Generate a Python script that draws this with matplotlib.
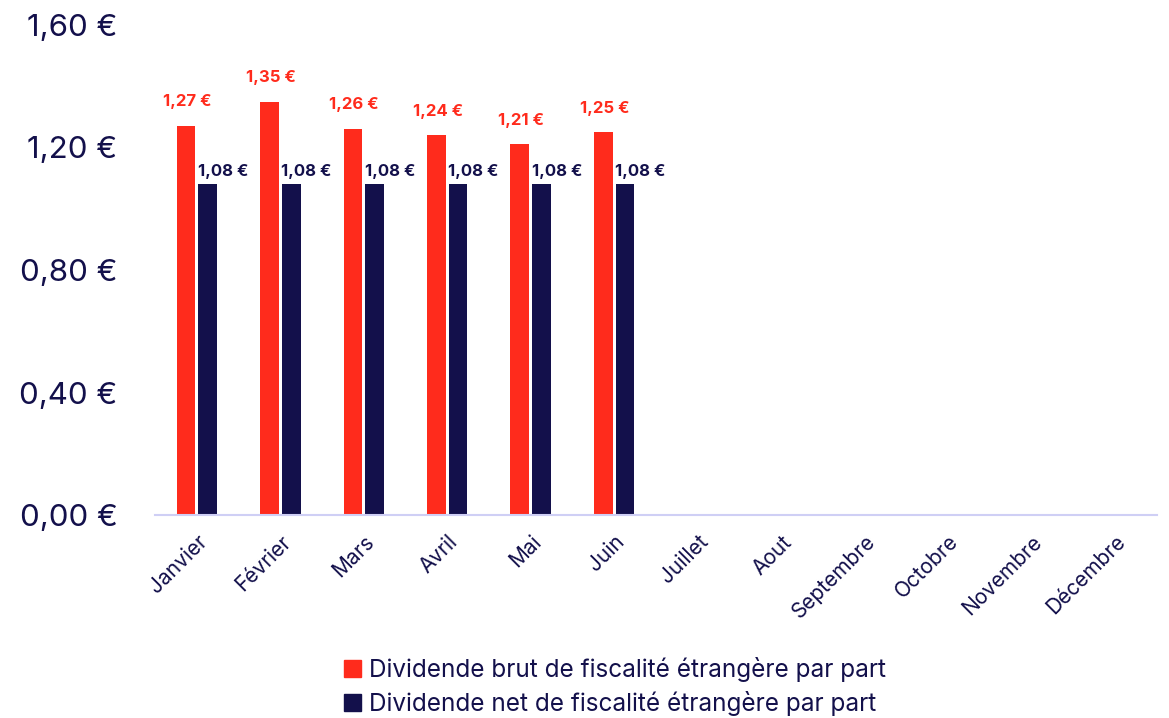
import matplotlib
matplotlib.use("Agg")
import matplotlib.pyplot as plt
import numpy as np
from matplotlib.patches import Patch

months = ["Janvier", "Février", "Mars", "Avril", "Mai", "Juin", "Juillet",
          "Aout", "Septembre", "Octobre", "Novembre", "Décembre"]
brut = [1.27, 1.35, 1.26, 1.24, 1.21, 1.25]
net = [1.08, 1.08, 1.08, 1.08, 1.08, 1.08]
yticks = [0.0, 0.4, 0.8, 1.2, 1.6]
legend_labels = ["Dividende brut de fiscalité étrangère par part",
                 "Dividende net de fiscalité étrangère par part"]

RED = "#ff2b1c"
NAVY = "#13104b"
FONT = "Inter"

def eur(v):
    return f"{v:.2f}".replace(".", ",") + " €"

fig = plt.figure(figsize=(11.69, 7.18), dpi=100)
ax = fig.add_axes([0.1326, 0.2827, 0.8571, 0.6825])

x = np.arange(len(months))
w = 0.225
gap = 0.035
xb = x[:len(brut)] - (w + gap) / 2
xn = x[:len(net)] + (w + gap) / 2
ax.bar(xb, brut, width=w, color=RED)
ax.bar(xn, net, width=w, color=NAVY)

for xi, v in zip(xb, brut):
    ax.annotate(eur(v), (xi, v), xytext=(1, 12), textcoords="offset points",
                ha="center", va="bottom", color=RED, fontsize=12,
                fontweight="bold", family=FONT)
for xi, v in zip(xn, net):
    ax.annotate(eur(v), (xi - w / 2, v), xytext=(-0.5, 4), textcoords="offset points",
                ha="left", va="bottom", color=NAVY, fontsize=12,
                fontweight="bold", family=FONT)

ax.set_xlim(-0.5, len(months) - 0.5)
ax.set_ylim(0, 1.6)
ax.set_yticks(yticks)
ax.set_yticklabels([eur(v) for v in yticks], fontsize=22.5, color=NAVY,
                   family=FONT)
ax.set_xticks(x)
ax.set_xticklabels(months, rotation=45, ha="right", rotation_mode="anchor",
                   fontsize=15, color=NAVY, family=FONT)
ax.tick_params(axis="both", length=0)
ax.tick_params(axis="x", pad=12)
ax.tick_params(axis="y", pad=27)
for s in ["top", "right", "left"]:
    ax.spines[s].set_visible(False)
ax.spines["bottom"].set_color("#cfcff5")
ax.spines["bottom"].set_linewidth(1.5)

handles = [Patch(color=RED), Patch(color=NAVY)]
fig.legend(handles, legend_labels, loc="center", bbox_to_anchor=(0.526, 0.0435),
           ncol=1, frameon=False, handlelength=0.7, handleheight=0.7,
           handletextpad=0.3, labelspacing=0.38, borderpad=0.2,
           prop={"family": FONT, "size": 17.5}, labelcolor=NAVY)

fig.savefig("out.png", dpi=100)
